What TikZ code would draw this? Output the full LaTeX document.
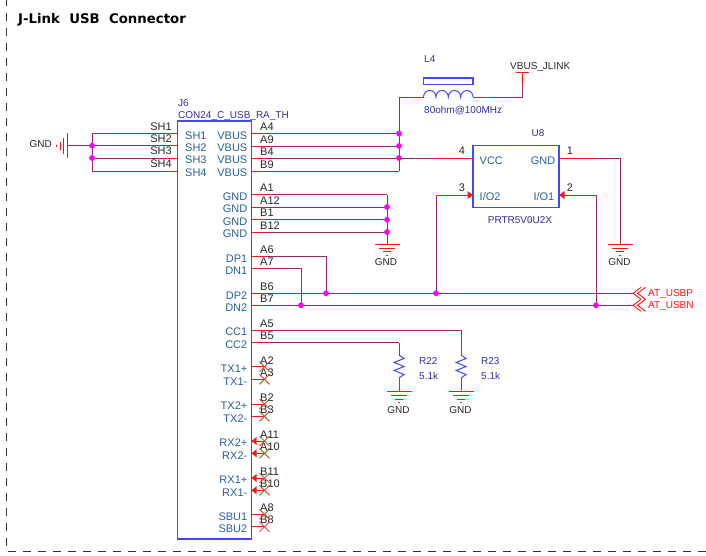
\documentclass[tikz,border=0pt]{standalone}
\usepackage{fontspec}
\setmainfont{Liberation Sans}
\newfontfamily\titlefont{DejaVu Sans}
\usetikzlibrary{positioning}
\definecolor{WireColor}{RGB}{150,40,110}
\definecolor{PinRed}{RGB}{255,20,20}
\definecolor{BoxBlue}{RGB}{70,70,255}
\definecolor{DotPink}{RGB}{255,0,255}
\definecolor{PartText}{RGB}{48,48,154}
\definecolor{NameText}{RGB}{40,96,154}
\definecolor{CrossColor}{RGB}{170,100,50}
\tikzset{
	wire/.style={draw=WireColor, line width=1pt},
	stub/.style={draw=PinRed, line width=1pt},
	partbox/.style={draw=BoxBlue, line width=1.2pt},
	partcurve/.style={draw=BoxBlue, line width=1pt},
	junction/.style={fill=DotPink, draw=none},
	pinnum/.style={font=\fontsize{11}{11}\selectfont, text=black!85, inner sep=0pt},
	pinname/.style={font=\fontsize{11}{11}\selectfont, text=NameText, inner sep=0pt},
	partlabel/.style={font=\fontsize{10}{10}\selectfont, text=PartText, inner sep=0pt},
	netlabel/.style={font=\fontsize{10}{10}\selectfont, text=black!85, inner sep=0pt},
	redlabel/.style={font=\fontsize{10}{10}\selectfont, text=PinRed, inner sep=0pt},
	gndsym/.pic={
		\draw[stub] (-12.5,0) -- (12.5,0);
		\draw[stub] (-8,4) -- (8,4);
		\draw[stub] (-4,7.5) -- (4,7.5);
		\draw[stub] (-1,11) -- (1,11);
	}
}
\begin{document}
\begin{tikzpicture}[x=1pt, y=-1pt]
			\useasboundingbox (0,0) rectangle (706,555);
			\pgfmathsetmacro{\DotRadius}{2.9}
			\pgfmathsetmacro{\CrossSize}{5}
			\coordinate (BorderTop) at (6,-2);
			\coordinate (BorderCorner) at (6,551);
			\coordinate (BorderEnd) at (706,551);
			\draw [black!80, line width=1pt, dash pattern=on 8pt off 7pt] (BorderTop) -- (BorderCorner) -- (BorderEnd);
			\node [font=\titlefont\bfseries\fontsize{13.3}{14}\selectfont, anchor=west, inner sep=0pt] (SheetTitle) at (18,20) {J-Link\ \ USB\ \ Connector};
			\node [partbox, minimum width=73.5pt, minimum height=418pt, inner sep=0pt] (UsbBody) at (214.5,330) {};
			\node [partlabel, anchor=west] (UsbRef) at (178,103.5) {J6};
			\node [partlabel, anchor=west] (UsbValue) at (178,115.5) {CON24\_C\_USB\_RA\_TH};
			\coordinate (ShieldBus) at (92,0);
			\coordinate (VbusBus) at (399,0);
			\coordinate (GndBus) at (387,0);
			\coordinate (DpTie) at (326,0);
			\coordinate (DnTie) at (301,0);
			\coordinate (CcOneDrop) at (461,0);
			\coordinate (CcTwoDrop) at (399,0);
			\coordinate (ClampLeft) at (436,0);
			\coordinate (ClampRight) at (596,0);
			\foreach \PinNum/\PinName/\PinY in {SH1/SH1/133.5, SH2/SH2/145.7, SH3/SH3/158, SH4/SH4/171} {
				\coordinate (Pin\PinNum) at (178,\PinY);
				\coordinate (Stub\PinNum) at (165,\PinY);
				\draw [wire] (Stub\PinNum) -- (ShieldBus |- Stub\PinNum);
				\draw [stub] (Pin\PinNum) -- (Stub\PinNum);
				\node [pinnum, anchor=east] (Num\PinNum) at (172,\PinY-7) {\PinName};
				\node [pinname, anchor=west] (Name\PinNum) at (185,\PinY+2) {\PinName};
			}
			\coordinate (ShieldTap) at (67.5,145.7);
			\draw [wire] (ShieldBus |- PinSH1) -- (ShieldBus |- PinSH4);
			\draw [wire] (ShieldTap) -- (ShieldBus |- ShieldTap);
			\pic [rotate=-90] at (ShieldTap) {gndsym};
			\node [netlabel, anchor=east] (ShieldGnd) at (52,144.5) {GND};
			\filldraw [junction] (ShieldBus |- PinSH2) circle (\DotRadius);
			\filldraw [junction] (ShieldBus |- PinSH3) circle (\DotRadius);
			\foreach \PinNum/\PinName/\PinY in {A4/VBUS/133.5, A9/VBUS/146, B4/VBUS/158, B9/VBUS/171, A1/GND/194.7, A12/GND/207, B1/GND/219.7, B12/GND/232, A6/DP1/256.3, A7/DN1/268.7, B6/DP2/293.3, B7/DN2/305.3, A5/CC1/330, B5/CC2/342.7, A2/TX1+/366.7, A3/TX1-/379.3, B2/TX2+/404, B3/TX2-/416.3, A11/RX2+/441, A10/RX2-/453.3, B11/RX1+/478, B10/RX1-/490.3, A8/SBU1/514.3, B8/SBU2/526.7} {
				\coordinate (Pin\PinNum) at (251.5,\PinY);
				\coordinate (Stub\PinNum) at (264.5,\PinY);
				\node [pinnum, anchor=west] (Num\PinNum) at (260,\PinY-6.5) {\PinNum};
				\node [pinname, anchor=east] (Name\PinNum) at (247.5,\PinY+2) {\PinName};
			}
			\coordinate (BeadIn) at (412,97);
			\coordinate (BeadLeft) at (423.5,97);
			\coordinate (BeadRight) at (473,97);
			\coordinate (BeadOut) at (486,97);
			\coordinate (VbusRail) at (522,72);
			\coordinate (VbusCorner) at (522,97);
			\coordinate (VbusStub) at (522,85);
			\foreach \PinNum in {A4,A9,B4,B9} {
				\draw [wire] (Stub\PinNum) -- (VbusBus |- Stub\PinNum);
			}
			\draw [wire] (VbusBus |- PinB9) -- (VbusBus |- BeadIn) -- (BeadIn);
			\draw [stub] (BeadIn) -- (BeadLeft);
			\draw [partbox] (423.5,78) rectangle (473,84.5);
			\draw [partcurve] (BeadLeft) arc (180:360:6.2 and 6.5) arc (180:360:6.2 and 6.5) arc (180:360:6.2 and 6.5) arc (180:360:6.2 and 6.5);
			\draw [stub] (BeadRight) -- (BeadOut);
			\draw [wire] (BeadOut) -- (VbusCorner) -- (VbusStub);
			\draw [stub] (VbusStub) -- (VbusRail);
			\draw [stub] (516,72) -- (529,72);
			\node [partlabel, anchor=west] (BeadRef) at (424,59.5) {L4};
			\node [partlabel, anchor=west] (BeadValue) at (424,111) {80ohm@100MHz};
			\node [netlabel, anchor=west] (VbusLabel) at (510,66.5) {VBUS\_JLINK};
			\filldraw [junction] (VbusBus |- PinA4) circle (\DotRadius);
			\filldraw [junction] (VbusBus |- PinA9) circle (\DotRadius);
			\filldraw [junction] (VbusBus |- PinB4) circle (\DotRadius);
			\node [partbox, minimum width=86pt, minimum height=61.5pt, inner sep=0pt] (ClampBody) at (516,176.5) {};
			\node [partlabel] (ClampRef) at (538,133.5) {U8};
			\node [partlabel] (ClampValue) at (520,220.5) {PRTR5V0U2X};
			\coordinate (ClampVcc) at (ClampBody.west |- PinB4);
			\coordinate (ClampVccStub) at (436,158);
			\coordinate (ClampGnd) at (ClampBody.east |- PinB4);
			\coordinate (ClampGndStub) at (596,158);
			\coordinate (ClampGndCorner) at (620,158);
			\coordinate (ClampGndBar) at (620,244.3);
			\coordinate (ClampIoTwo) at (473,195);
			\coordinate (ClampIoOne) at (559,195);
			\coordinate (ClampTurnLeft) at (436,195);
			\coordinate (ClampTurnRight) at (596,195);
			\draw [wire] (VbusBus |- PinB4) -- (ClampVccStub);
			\draw [stub] (ClampVccStub) -- (ClampVcc);
			\draw [stub] (ClampGnd) -- (ClampGndStub);
			\draw [wire] (ClampGndStub) -- (ClampGndCorner) -- (ClampGndBar);
			\pic at (ClampGndBar) {gndsym};
			\node [netlabel] (ClampGndLabel) at (619.5,262.5) {GND};
			\node [pinname, anchor=west] (ClampVccName) at (479.5,160.5) {VCC};
			\node [pinname, anchor=east] (ClampGndName) at (555.5,160.5) {GND};
			\node [pinname, anchor=west] (ClampIoTwoName) at (479.5,197) {I/O2};
			\node [pinname, anchor=east] (ClampIoOneName) at (554.5,197) {I/O1};
			\node [pinnum] (ClampNumFour) at (462,151) {4};
			\node [pinnum] (ClampNumThree) at (462,188) {3};
			\node [pinnum] (ClampNumOne) at (570,151) {1};
			\node [pinnum] (ClampNumTwo) at (570,188) {2};
			\draw [wire] (ClampTurnLeft) -- (ClampLeft |- PinB6);
			\draw [wire] (ClampTurnRight) -- (ClampRight |- PinB7);
			\draw [stub] (ClampTurnLeft) -- (ClampIoTwo);
			\draw [stub] (ClampTurnRight) -- (ClampIoOne);
			\fill [PinRed] (ClampIoTwo) -- ++(-5.5,-4) -- ++(0,8) -- cycle;
			\fill [PinRed] (ClampIoOne) -- ++(5.5,-4) -- ++(0,8) -- cycle;
			\coordinate (GndBar) at (387,244.3);
			\foreach \PinNum in {A1,A12,B1,B12} {
				\draw [wire] (Stub\PinNum) -- (GndBus |- Stub\PinNum);
			}
			\draw [wire] (GndBus |- PinA1) -- (GndBar);
			\pic at (GndBar) {gndsym};
			\node [netlabel] (GndLabel) at (386,262.5) {GND};
			\filldraw [junction] (GndBus |- PinA12) circle (\DotRadius);
			\filldraw [junction] (GndBus |- PinB1) circle (\DotRadius);
			\filldraw [junction] (GndBus |- PinB12) circle (\DotRadius);
			\coordinate (UsbpEnd) at (633,293.3);
			\coordinate (UsbnEnd) at (633,305.3);
			\draw [wire] (StubA6) -- (DpTie |- StubA6) -- (DpTie |- PinB6);
			\draw [wire] (StubA7) -- (DnTie |- StubA7) -- (DnTie |- PinB7);
			\draw [wire] (StubB6) -- (UsbpEnd);
			\draw [wire] (StubB7) -- (UsbnEnd);
			\filldraw [junction] (DpTie |- PinB6) circle (\DotRadius);
			\filldraw [junction] (DnTie |- PinB7) circle (\DotRadius);
			\filldraw [junction] (ClampLeft |- PinB6) circle (\DotRadius);
			\filldraw [junction] (ClampRight |- PinB7) circle (\DotRadius);
			\foreach \OffPageEnd in {UsbpEnd,UsbnEnd} {
				\draw [stub, line width=0.9pt] (\OffPageEnd) ++(8,-6) -- ++(-8,6) -- ++(8,6);
				\draw [stub, line width=0.9pt] (\OffPageEnd) ++(12.5,-6) -- ++(-8,6) -- ++(8,6);
			}
			\node [redlabel, anchor=west] (UsbpLabel) at (648,294) {AT\_USBP};
			\node [redlabel, anchor=west] (UsbnLabel) at (648,306) {AT\_USBN};
			\draw [wire] (StubA5) -- (CcOneDrop |- StubA5) -- (461,343);
			\draw [wire] (StubB5) -- (CcTwoDrop |- StubB5);
			\foreach \ResName/\ResX/\TopY in {R22/399/342.7, R23/461/343} {
				\coordinate (\ResName Top) at (\ResX,\TopY);
				\coordinate (\ResName Bar) at (\ResX,391.7);
				\draw [stub] (\ResName Top) -- (\ResX,355);
				\draw [partcurve] (\ResX,355) -- ++(5,3.5) -- ++(-10,4) -- ++(10,4) -- ++(-10,4) -- ++(10,4) -- ++(-5,3.5);
				\draw [stub] (\ResX,378) -- (\ResName Bar);
				\pic at (\ResName Bar) {gndsym};
				\node [partlabel, anchor=west] (\ResName Ref) at (\ResX+20,361.5) {\ResName};
				\node [partlabel, anchor=west] (\ResName Value) at (\ResX+20,375.5) {5.1k};
				\node [netlabel] (\ResName Gnd) at (\ResX-0.5,410.5) {GND};
			}
			\foreach \PinNum in {A4,A9,B4,B9,A1,A12,B1,B12,A6,A7,B6,B7,A5,B5,A2,A3,B2,B3,A8,B8} {
				\draw [stub] (Pin\PinNum) -- (Stub\PinNum);
			}
			\foreach \PinNum in {A11,A10,B11,B10} {
				\draw [stub] (Pin\PinNum) -- (Stub\PinNum);
				\fill [PinRed] (Pin\PinNum) -- ++(5,-4) -- ++(0,8) -- cycle;
			}
			\foreach \PinNum in {A2,A3,B2,B3,A11,A10,B11,B10,A8,B8} {
				\draw [CrossColor, line width=1pt] (Stub\PinNum) ++(-\CrossSize,-\CrossSize) -- ++(2*\CrossSize,2*\CrossSize);
				\draw [CrossColor, line width=1pt] (Stub\PinNum) ++(\CrossSize,-\CrossSize) -- ++(-2*\CrossSize,2*\CrossSize);
			}
		\end{tikzpicture}
\end{document}
